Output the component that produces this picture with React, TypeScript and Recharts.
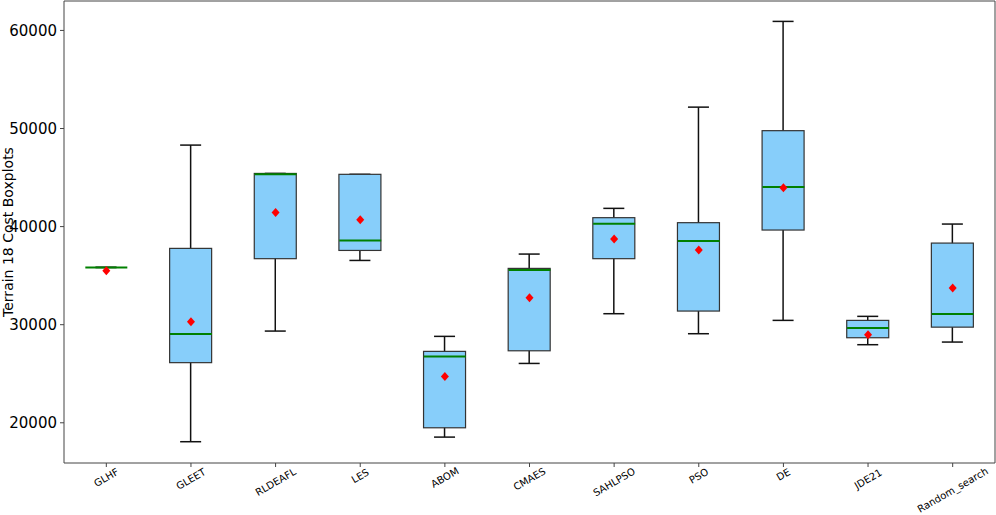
import { Bar, ComposedChart, Scatter, XAxis, YAxis } from "recharts";

// values
const algorithms = ["GLHF", "GLEET", "RLDEAFL", "LES", "ABOM", "CMAES", "SAHLPSO", "PSO", "DE", "JDE21", "Random_search"];
const whiskerLow = [35840, 18070, 29350, 36550, 18540, 26050, 31120, 29080, 30440, 27960, 28230];
const boxLow = [35840, 26130, 36730, 37570, 19490, 27340, 36730, 31390, 39650, 28670, 29750];
const medians = [35840, 29040, 45350, 38590, 26770, 35570, 40300, 38530, 44030, 29660, 31080];
const boxHigh = [35840, 37780, 45420, 45330, 27280, 35740, 40910, 40400, 49780, 30440, 38320];
const whiskerHigh = [35840, 48310, 45420, 45330, 28810, 37200, 41860, 52180, 60920, 30850, 40260];
const means = [35500, 30310, 41450, 40700, 24730, 32750, 38730, 37610, 43960, 28970, 33740];
const yTicks = [20000, 30000, 40000, 50000, 60000];
const yDomain = [15900, 63000];

const data = algorithms.map((name, i) => ({
  name,
  lo: whiskerLow[i],
  q1: boxLow[i],
  med: medians[i],
  q3: boxHigh[i],
  hi: whiskerHigh[i],
  mean: means[i],
}));

const FONT = "'DejaVu Sans', sans-serif";
const SPINE = "#444";
const BOX_W = 42;

function WhiskerShape(props: any) {
  const { x, y, width, height } = props;
  const top = Math.min(y, y + height);
  const bottom = Math.max(y, y + height);
  const cx = x + width / 2;
  const cap = width / 4;
  return (
    <g stroke="#111" strokeWidth={1.5}>
      <line x1={cx} x2={cx} y1={top} y2={bottom} />
      <line x1={cx - cap} x2={cx + cap} y1={top} y2={top} />
      <line x1={cx - cap} x2={cx + cap} y1={bottom} y2={bottom} />
    </g>
  );
}

function BoxShape(props: any) {
  const { x, y, width, height } = props;
  const top = Math.min(y, y + height);
  return <rect x={x} y={top} width={width} height={Math.abs(height)} fill="#87CEFA" stroke="#333" strokeWidth={1.2} />;
}

function MedianShape(props: any) {
  const { cx, cy } = props;
  return <line x1={cx - BOX_W / 2} x2={cx + BOX_W / 2} y1={cy} y2={cy} stroke="#008000" strokeWidth={2} />;
}

function MeanShape(props: any) {
  const { cx, cy } = props;
  return <polygon points={`${cx},${cy - 4.5} ${cx + 4},${cy} ${cx},${cy + 4.5} ${cx - 4},${cy}`} fill="#ff0000" />;
}

function XTick(props: any) {
  const { x, y, payload } = props;
  const fs = 10;
  const w = String(payload.value).length * fs * 0.6;
  const h = fs * 0.8;
  const halfH = (w * 0.5 + h * 0.866) / 2;
  const cy = Math.min(y + halfH + 1, 513 - halfH);
  return (
    <g transform={`translate(${x},${cy}) rotate(-30)`}>
      <text x={0} y={0} textAnchor="middle" dominantBaseline="central" fontFamily={FONT} fontSize={fs} fill="#000">
        {payload.value}
      </text>
    </g>
  );
}

function YLabel(props: any) {
  const { viewBox } = props;
  const cx = viewBox.x + 8;
  const cy = viewBox.y + viewBox.height / 2;
  return (
    <text
      x={cx}
      y={cy}
      transform={`rotate(-90, ${cx}, ${cy})`}
      textAnchor="middle"
      dominantBaseline="central"
      fontFamily={FONT}
      fontSize={14}
      fill="#000"
    >
      Terrain 18 Cost Boxplots
    </text>
  );
}

export default function App() {
  return (
    <div style={{ width: 996, height: 515, background: "#fff" }}>
      <style>{`body{margin:0}`}</style>
      <ComposedChart width={996} height={515} data={data} margin={{ top: 0, right: 0, left: 0, bottom: 0 }}>
        <XAxis
          xAxisId="main"
          dataKey="name"
          type="category"
          height={52}
          interval={0}
          tick={<XTick />}
          tickSize={4}
          tickMargin={0}
          tickLine={{ stroke: SPINE }}
          axisLine={{ stroke: SPINE }}
        />
        <XAxis xAxisId="w" dataKey="name" type="category" hide />
        <XAxis
          xAxisId="top"
          dataKey="name"
          type="category"
          orientation="top"
          height={1}
          tick={false}
          tickLine={false}
          axisLine={{ stroke: SPINE }}
        />
        <YAxis
          yAxisId="left"
          type="number"
          domain={yDomain}
          allowDataOverflow
          ticks={yTicks}
          width={64}
          tickSize={4}
          tickMargin={3}
          tickLine={{ stroke: SPINE }}
          axisLine={{ stroke: SPINE }}
          tick={{ fontFamily: FONT, fontSize: 15, fill: "#000" }}
          label={<YLabel />}
        />
        <YAxis
          yAxisId="right"
          type="number"
          orientation="right"
          domain={yDomain}
          allowDataOverflow
          width={1}
          tick={false}
          tickLine={false}
          axisLine={{ stroke: SPINE }}
        />
        <Bar
          xAxisId="w"
          yAxisId="left"
          dataKey={(d: any) => [d.lo, d.hi]}
          barSize={BOX_W}
          shape={<WhiskerShape />}
          isAnimationActive={false}
        />
        <Bar
          xAxisId="main"
          yAxisId="left"
          dataKey={(d: any) => [d.q1, d.q3]}
          barSize={BOX_W}
          shape={<BoxShape />}
          isAnimationActive={false}
        />
        <Scatter xAxisId="main" yAxisId="left" dataKey="med" shape={<MedianShape />} isAnimationActive={false} />
        <Scatter xAxisId="main" yAxisId="left" dataKey="mean" shape={<MeanShape />} isAnimationActive={false} />
      </ComposedChart>
    </div>
  );
}
